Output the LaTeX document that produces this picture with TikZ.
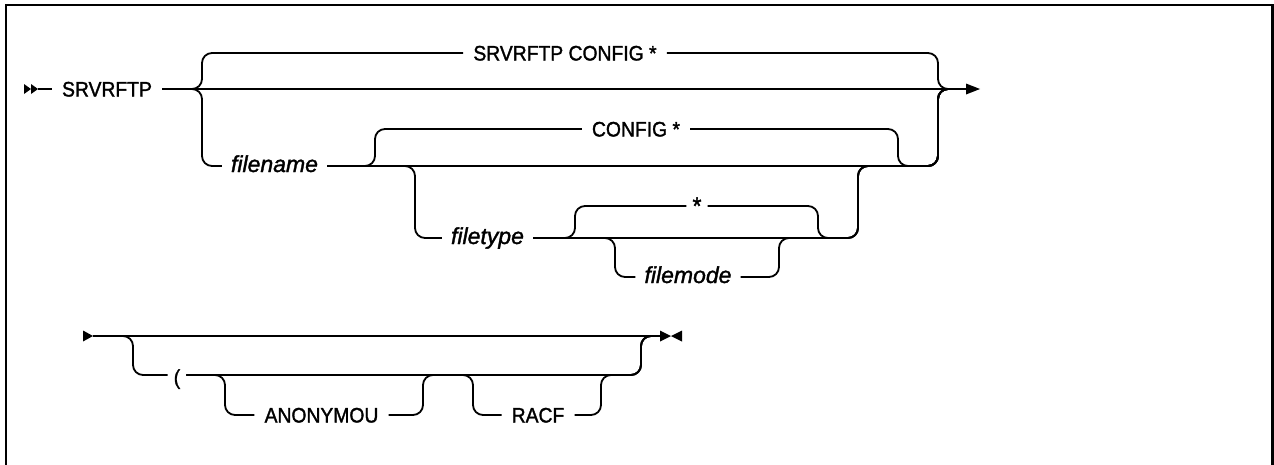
\documentclass[tikz,border=0pt]{standalone}
\usepackage{fontspec}
\setmainfont{Liberation Sans}
\newfontfamily\diagfont{Liberation Sans}[FakeStretch=0.92, FakeBold=1.5]
\newfontfamily\diagitfont{Liberation Sans}[FakeBold=1.5]
\begin{document}
\begin{tikzpicture}[x=1pt,y=-1pt,
  rr/.style={line width=1.8pt, rounded corners=10pt, line join=round},
  lab/.style={font=\diagfont\fontsize{21}{22}\selectfont, inner xsep=10pt, inner ysep=0pt, text height=15pt, text depth=0pt},
  ital/.style={font=\diagitfont\fontsize{23}{24}\selectfont\itshape, inner xsep=9pt, inner ysep=0pt, text height=16pt, text depth=4pt},
  tipfill/.style={fill=black}]
\useasboundingbox (0,0) rectangle (1274,464);
\clip (0,0) rectangle (1274,464);
% frame
\draw[line width=2.2pt] (6,480) -- (6,5) -- (1272.5,5) -- (1272.5,480);

% ---------- row 1 ----------
\node[lab] (srv) at (107,89) {SRVRFTP};
\node[lab] (def) at (565,53) {SRVRFTP CONFIG *};
\node[ital] (fn) at (274.5,166) {filename};
\node[lab] (cfg) at (636,129) {CONFIG *};
\node[ital] (ft) at (487.5,238) {filetype};
\node[lab, inner xsep=6pt, font=\diagfont\fontsize{25}{26}\selectfont, text height=17pt] (star) at (697,206) {*};
\node[ital] (fm) at (688,277) {filemode};

\coordinate (s0) at (38,89);
\coordinate (e1) at (967,89);
\coordinate (L) at (202,89);
\coordinate (R) at (938,89);
\coordinate (c1) at (375,166);
\coordinate (c2) at (898,166);
\coordinate (f1) at (415,166);
\coordinate (f2) at (858,166);
\coordinate (a1) at (575,238);
\coordinate (a2) at (818,238);
\coordinate (m1) at (615,238);
\coordinate (m2) at (779,238);

\fill[tipfill] (24,84) -- (31,89) -- (24,94) -- cycle;
\fill[tipfill] (31,84) -- (38,89) -- (31,94) -- cycle;
\draw[rr] (s0) -- (srv.west);
\draw[rr] (srv.east) -- (e1);
\fill[tipfill] (966,83.5) -- (980,89) -- (966,94.5) -- cycle;

\draw[rr] (srv.east) -- (L) |- (def.west);
\draw[rr] (def.east) -| (R) -- (e1);
\draw[rr] (srv.east) -- (L) |- (fn.west);
\draw[rr] (fn.east) -| (R) -- (e1);

\draw[rr] (fn.east) -- (c1) |- (cfg.west);
\draw[rr] (cfg.east) -| (c2) -| (R) -- (e1);

\draw[rr] (fn.east) -- (f1) |- (ft.west);
\draw[rr] (ft.east) -| (f2) -| (R) -- (e1);

\draw[rr] (ft.east) -- (a1) |- (star.west);
\draw[rr] (star.east) -| (a2) -| (f2) -| (R) -- (e1);

\draw[rr] (ft.east) -- (m1) |- (fm.west);
\draw[rr] (fm.east) -| (m2) -| (f2) -| (R) -- (e1);

% ---------- row 2 ----------
\node[lab, inner xsep=6pt, text height=19pt] (par) at (177,375) {(};
\node[lab] (anon) at (321.5,415) {ANONYMOU};
\node[lab] (racf) at (538,415) {RACF};

\coordinate (s2) at (93,336);
\coordinate (e2) at (660,336);
\coordinate (B1) at (133,336);
\coordinate (B2) at (641,336);
\coordinate (n1) at (225,375);
\coordinate (n2) at (423,375);
\coordinate (q1) at (473,375);
\coordinate (q2) at (601,375);

\fill[tipfill] (83,330.5) -- (93,336) -- (83,341.5) -- cycle;
\draw[rr] (s2) -- (e2);
\fill[tipfill] (660,330.5) -- (671,336) -- (660,341.5) -- cycle;
\fill[tipfill] (682,330.5) -- (671,336) -- (682,341.5) -- cycle;

\draw[rr] (s2) -- (B1) |- (par.west);
\draw[rr] (par.east) -| (B2) -- (e2);
\draw[rr] (par.east) -- (n1) |- (anon.west);
\draw[rr] (anon.east) -| (n2) -| (B2) -- (e2);
\draw[rr] (par.east) -- (q1) |- (racf.west);
\draw[rr] (racf.east) -| (q2) -| (B2) -- (e2);
\end{tikzpicture}
\end{document}
